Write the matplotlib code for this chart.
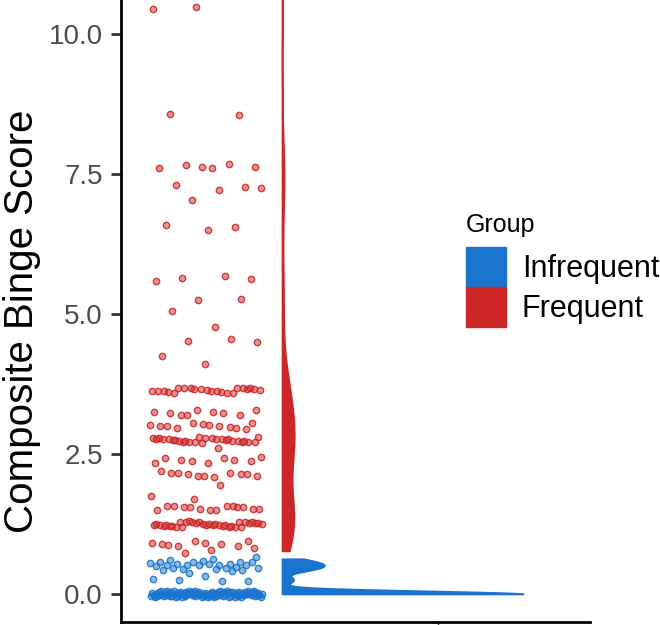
import numpy as np
import matplotlib
matplotlib.use('Agg')
import matplotlib.pyplot as plt
from matplotlib.patches import Patch

plt.rcParams['font.family'] = ['Liberation Sans', 'DejaVu Sans']

# ---------------------------------------------------------------------------
# Data: composite binge score (value level, count)
# ---------------------------------------------------------------------------
GROUPS = ['Infrequent', 'Frequent']
COLORS = ['#1874CD', '#CD2626']

infrequent_levels = [0.0, 0.22, 0.27, 0.42, 0.47, 0.52, 0.57, 0.63]
infrequent_counts = [95, 2, 3, 5, 6, 7, 6, 4]

frequent_levels = [0.77, 0.89, 1.25, 1.53, 1.70, 1.78, 1.89, 2.14, 2.39, 2.50,
                   2.57, 2.75, 3.00, 3.25, 3.64, 4.12, 4.29, 4.50, 4.80, 5.00,
                   5.25, 5.62, 6.53, 7.04, 7.27, 7.65, 8.54, 10.50, 11.20]
frequent_counts = [3, 9, 34, 14, 1, 1, 1, 11, 8, 1,
                   1, 27, 12, 9, 22, 1, 1, 3, 1, 1,
                   2, 4, 3, 1, 4, 6, 2, 2, 1]

# ---------------------------------------------------------------------------
# Layout (x axis in pixel-like units from the left spine)
# ---------------------------------------------------------------------------
W, H = 660, 625
X_PTS = 85        # centre of the jittered points
JIT_W = 56        # half width of horizontal jitter
JIT_H = 0.055     # half height of vertical jitter
X_VIO = 161       # base of the half violins
VIO_W = 241       # width of the widest violin
YLIM = (-0.5, 10.607)


def bw_nrd0(x):
    hi = np.std(x, ddof=1)
    q75, q25 = np.percentile(x, [75, 25])
    lo = min(hi, (q75 - q25) / 1.34)
    if lo == 0:
        lo = hi
    return 0.9 * lo * len(x) ** -0.2


def kde(x, grid):
    h = bw_nrd0(x)
    z = (grid[:, None] - x[None, :]) / h
    return np.exp(-0.5 * z ** 2).sum(axis=1) / (len(x) * h * np.sqrt(2 * np.pi))


values = [np.repeat(infrequent_levels, infrequent_counts),
          np.repeat(frequent_levels, frequent_counts)]

grids, dens = [], []
for v in values:
    g = np.linspace(v.min(), v.max(), 512)
    grids.append(g)
    dens.append(kde(v, g))
dmax = max(d.max() for d in dens)

fig = plt.figure(figsize=(W / 100, H / 100), dpi=100)
ax = fig.add_axes([121 / W, 3 / H, 469 / W, 622 / H])

# half violins (area scaled, trimmed to data range)
for g, d, col in zip(grids, dens, COLORS):
    ax.fill_betweenx(g, X_VIO, X_VIO + VIO_W * d / dmax,
                     facecolor=col, edgecolor=col, linewidth=1.2, zorder=2)

# jittered points (deterministic low-discrepancy jitter)
phi1 = 0.6180339887
phi2 = 0.7548776662
for v, col in zip(values, COLORS):
    i = np.arange(len(v))
    jx = X_PTS + (2 * ((i * phi1 + 0.31) % 1) - 1) * JIT_W
    jy = v + (2 * ((i * phi2 + 0.17) % 1) - 1) * JIT_H
    ax.scatter(jx, jy, s=21, facecolor=matplotlib.colors.to_rgba(col, 0.5),
               edgecolor=matplotlib.colors.to_rgba(col, 0.85), linewidth=1.0,
               zorder=3)

ax.set_xlim(0, 469)
ax.set_ylim(*YLIM)
ax.set_yticks([0, 2.5, 5, 7.5, 10])
ax.set_yticklabels(['0.0', '2.5', '5.0', '7.5', '10.0'])
ax.set_xticks([317])
ax.set_xticklabels([''])

for side in ['top', 'right']:
    ax.spines[side].set_visible(False)
for side in ['left', 'bottom']:
    ax.spines[side].set_linewidth(2.0)
    ax.spines[side].set_color('black')

ax.tick_params(axis='y', length=7, width=2.0, color='#333333',
               labelsize=20, labelcolor='#4D4D4D', pad=6)
ax.tick_params(axis='x', length=2, width=1.0, color='#333333')

ax.set_ylabel('Composite Binge Score', fontsize=29, color='black')
ax.yaxis.set_label_coords(-0.17, 0.484)

handles = [Patch(facecolor=c, edgecolor=c, label=gname)
           for gname, c in zip(GROUPS, COLORS)]
leg = fig.legend(handles=handles, title='Group', loc='upper left',
                 bbox_to_anchor=(466 / W, 1 - 213 / H), frameon=False,
                 fontsize=22, title_fontsize=18, handlelength=1.31,
                 handleheight=1.637, handletextpad=0.52, labelspacing=0,
                 borderpad=0, borderaxespad=0, alignment='left')
leg._legend_box.sep = 7

fig.savefig('out.png', dpi=100)
